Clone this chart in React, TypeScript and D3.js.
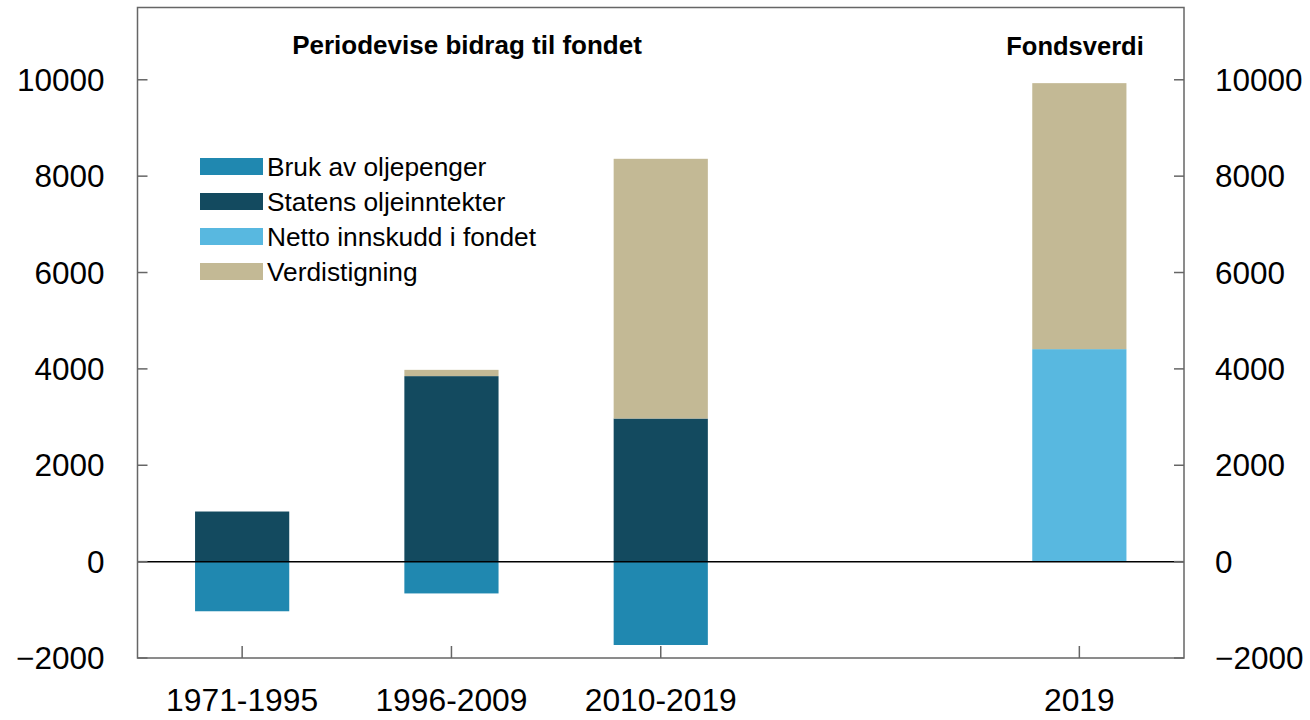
import React from 'react';
import * as d3 from 'd3';

// Periods (the 4th slot is intentionally empty, as in the source chart)
const categories = ['1971-1995', '1996-2009', '2010-2019', '', '2019'];

const seriesKeys = ['bruk', 'statens', 'netto', 'verdi'];
const seriesLabels = ['Bruk av oljepenger', 'Statens oljeinntekter', 'Netto innskudd i fondet', 'Verdistigning'];
const seriesColors = ['#2088b0', '#134a5f', '#58b8e0', '#c3b995'];

const brukAvOljepenger = [-1030, -660, -1730, 0, 0];
const statensOljeinntekter = [1040, 3850, 2970, 0, 0];
const nettoInnskudd = [0, 0, 0, 0, 4410];
const verdistigning = [0, 130, 5390, 0, 5520];

const yTicks = [-2000, 0, 2000, 4000, 6000, 8000, 10000];

const W = 1310;
const H = 720;
const margin = { top: 7.5, right: 126, bottom: 62, left: 137.5 };
const FONT = 'Liberation Sans, Arial, Helvetica, sans-serif';

export default function App() {
  const rows = categories.map((c, i) => ({
    cat: c || `_${i}`,
    label: c,
    bruk: brukAvOljepenger[i],
    statens: statensOljeinntekter[i],
    netto: nettoInnskudd[i],
    verdi: verdistigning[i],
  }));

  const x = d3.scaleBand<string>()
    .domain(rows.map(r => r.cat))
    .range([margin.left, W - margin.right])
    .paddingInner(0.55)
    .paddingOuter(0.275);

  const y = d3.scaleLinear()
    .domain([-2000, 11500])
    .range([H - margin.bottom, margin.top]);

  const stacked = d3.stack<any>()
    .keys(seriesKeys)
    .offset(d3.stackOffsetDiverging)(rows);

  const fmt = d3.format('d');
  const x0 = margin.left;
  const x1 = W - margin.right;
  const yb = H - margin.bottom;
  const frame = '#666';

  return (
    <svg width={W} height={H} style={{ position: 'absolute', left: 0, top: 0, background: '#fff' }} fontFamily={FONT}>
      {/* bars */}
      {stacked.map((layer, si) => (
        <g key={layer.key} fill={seriesColors[si]}>
          {layer.map((d, i) => {
            const h = Math.abs(y(d[0]) - y(d[1]));
            if (h < 0.01) return null;
            return (
              <rect
                key={i}
                x={x(rows[i].cat)}
                y={Math.min(y(d[0]), y(d[1]))}
                width={x.bandwidth()}
                height={h}
              />
            );
          })}
        </g>
      ))}

      {/* zero line */}
      <line x1={x0} x2={x1} y1={y(0)} y2={y(0)} stroke="#000" strokeWidth={1.5} />

      {/* frame */}
      <rect x={x0} y={margin.top} width={x1 - x0} height={yb - margin.top} fill="none" stroke={frame} strokeWidth={1.5} />

      {/* y ticks left and right */}
      {yTicks.map(t => (
        <g key={t}>
          <line x1={x0} x2={x0 + 10} y1={y(t)} y2={y(t)} stroke={frame} strokeWidth={1.5} />
          <line x1={x1 - 10} x2={x1} y1={y(t)} y2={y(t)} stroke={frame} strokeWidth={1.5} />
          <text x={x0 - 33} y={y(t)} dy="0.35em" textAnchor="end" fontSize={31.5} fill="#000">{fmt(t)}</text>
          <text x={x1 + 31} y={y(t)} dy="0.35em" textAnchor="start" fontSize={31.5} fill="#000">{fmt(t)}</text>
        </g>
      ))}

      {/* x ticks and labels */}
      {rows.filter(r => r.label).map(r => {
        const cx = (x(r.cat) as number) + x.bandwidth() / 2;
        return (
          <g key={r.cat}>
            <line x1={cx} x2={cx} y1={yb} y2={yb - 12} stroke={frame} strokeWidth={1.5} />
            <text x={cx} y={711} textAnchor="middle" fontSize={31.8} fill="#000">{r.label}</text>
          </g>
        );
      })}

      {/* section titles */}
      <text x={467} y={54} textAnchor="middle" fontSize={26} fontWeight="bold" fill="#000">Periodevise bidrag til fondet</text>
      <text x={1075} y={55} textAnchor="middle" fontSize={25.5} fontWeight="bold" fill="#000">Fondsverdi</text>

      {/* legend */}
      {seriesLabels.map((lab, i) => (
        <g key={lab} transform={`translate(200, ${158 + i * 35})`}>
          <rect x={0} y={0} width={63} height={17} fill={seriesColors[i]} />
          <text x={67} y={8.5} dy="0.35em" fontSize={26.3} fill="#000">{lab}</text>
        </g>
      ))}
    </svg>
  );
}
